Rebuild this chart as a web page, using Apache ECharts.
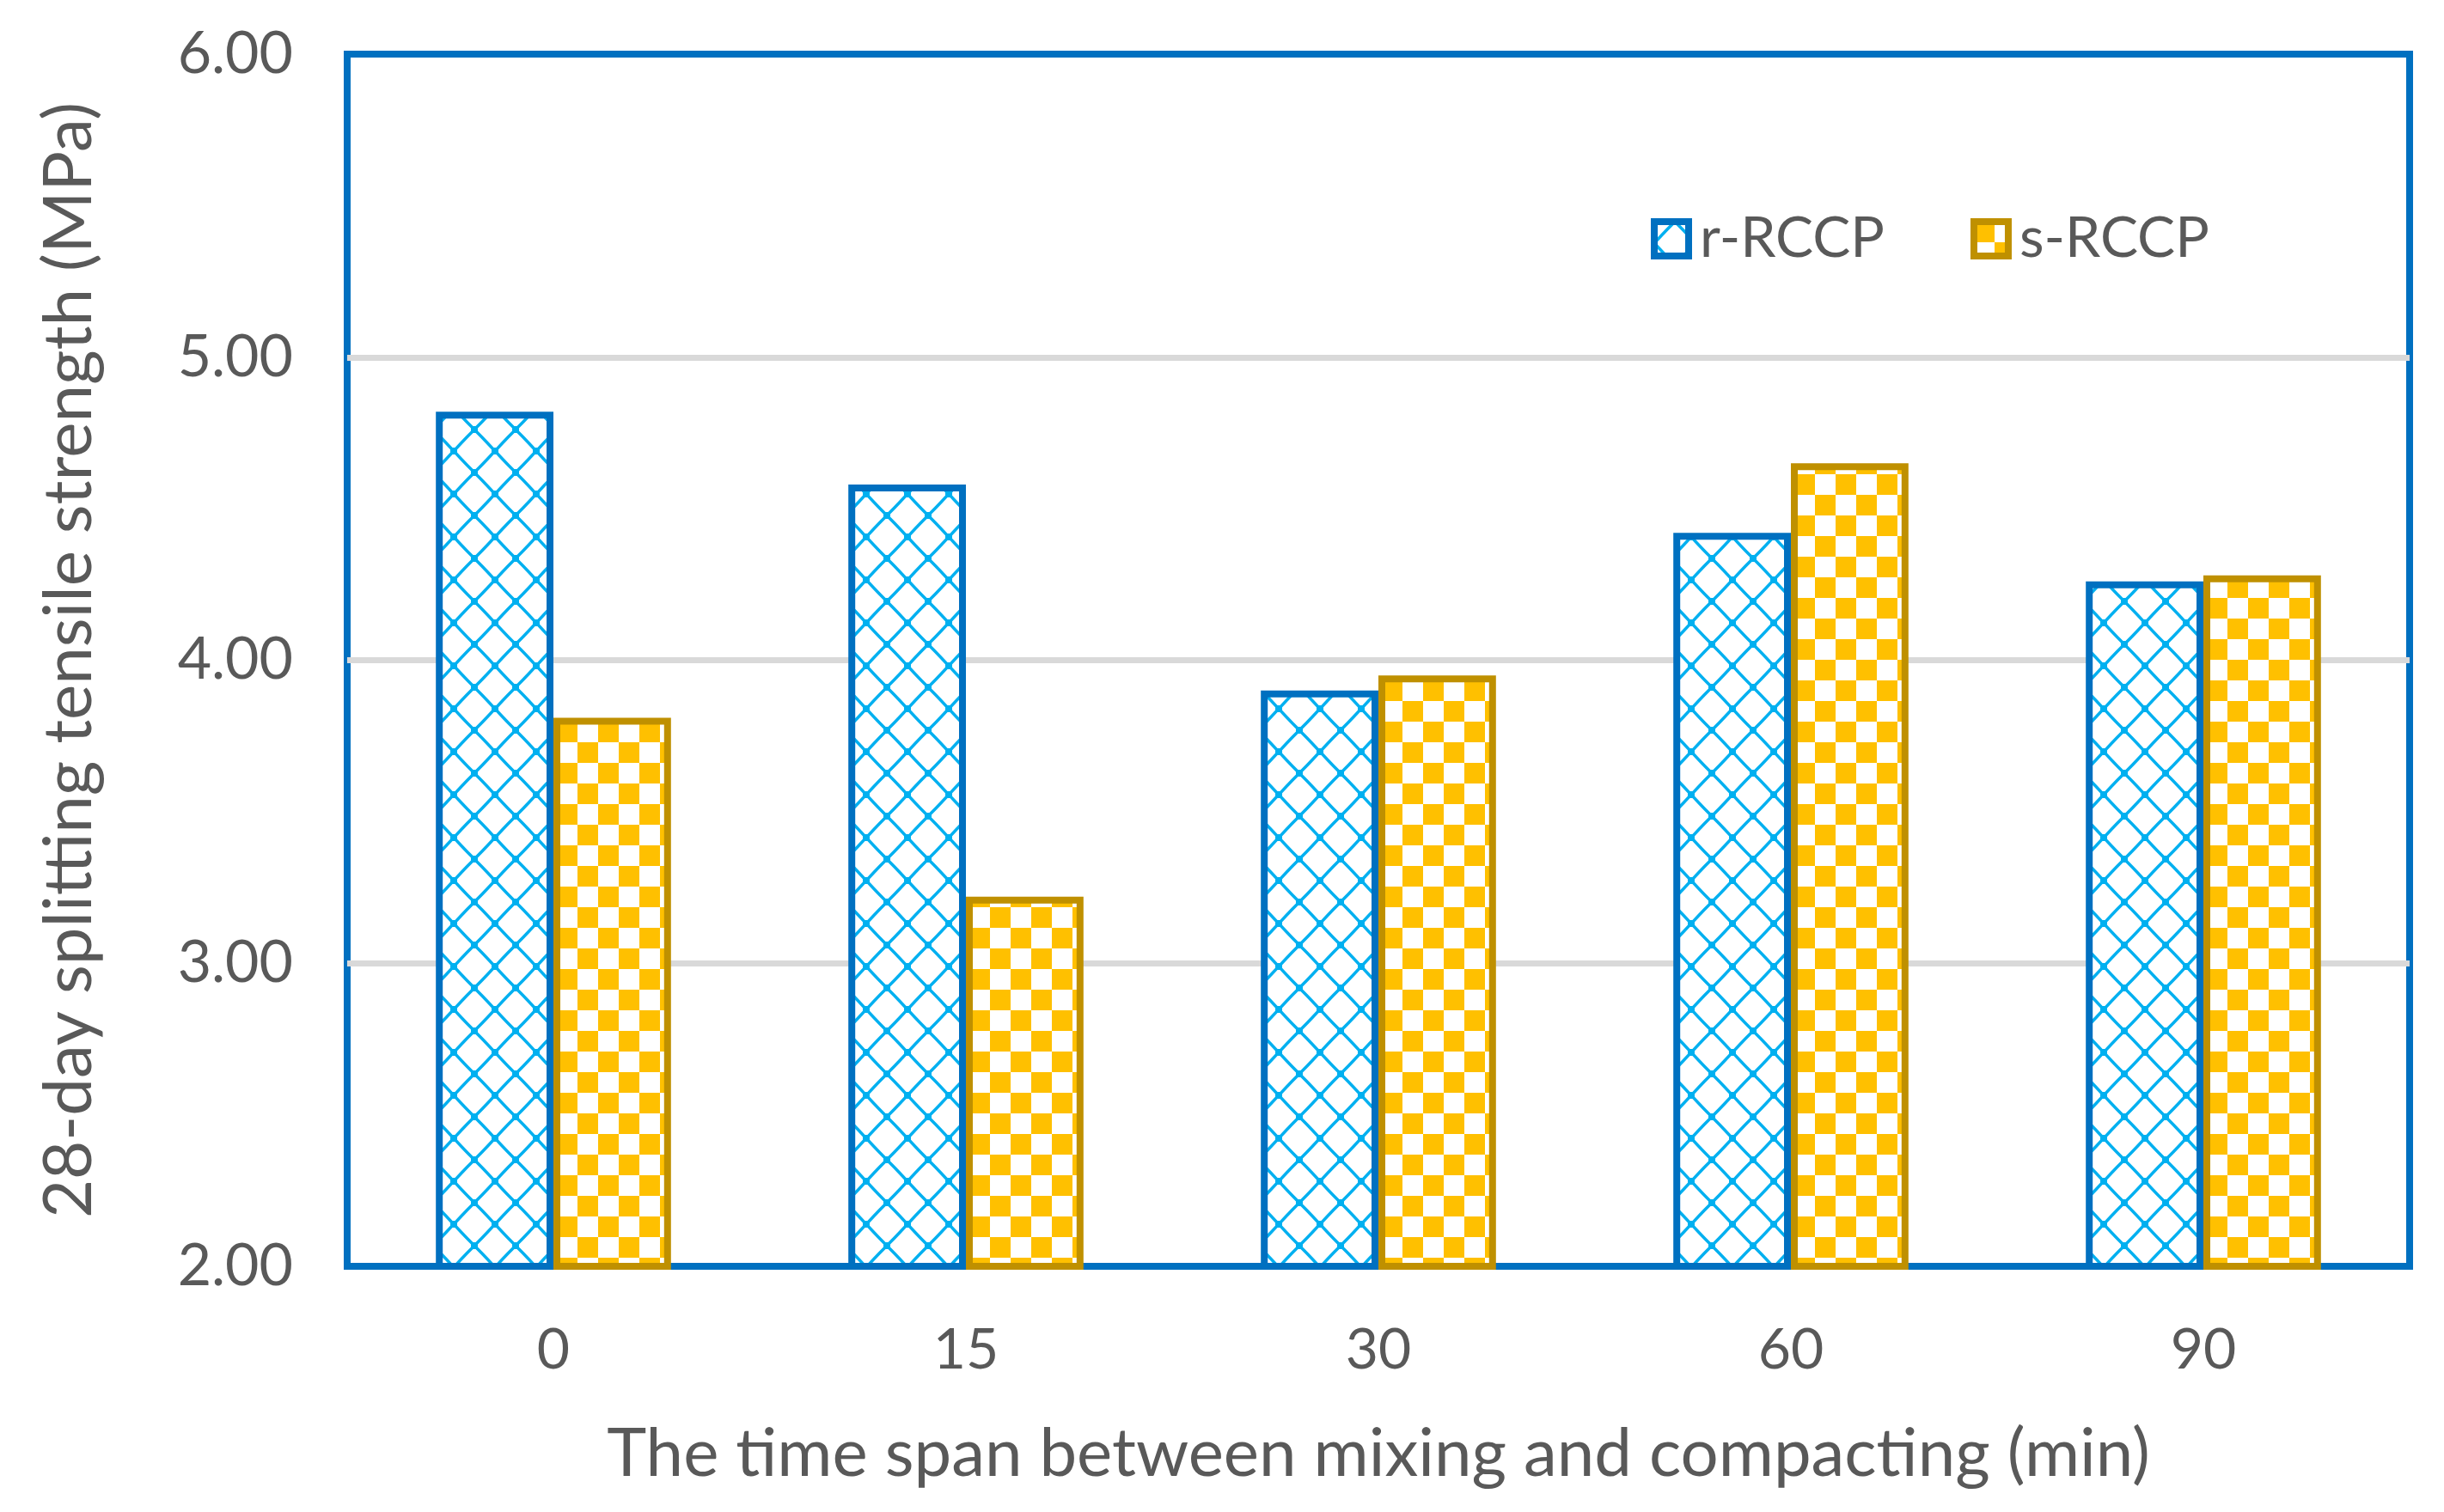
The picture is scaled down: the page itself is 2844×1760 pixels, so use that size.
<!DOCTYPE html>
<html>
<head>
<meta charset="utf-8">
<script src="https://cdn.jsdelivr.net/npm/echarts@6.0.0/dist/echarts.min.js"></script>
<style>
html,body{margin:0;padding:0;background:#fff;}
#chart{width:2844px;height:1760px;}
</style>
</head>
<body>
<div id="chart"></div>
<script>
var categories = ['0', '15', '30', '60', '90'];
var rRCCP = [4.82, 4.58, 3.90, 4.42, 4.26];
var sRCCP = [3.81, 3.22, 3.95, 4.65, 4.28];
var yTicks = [2, 3, 4, 5, 6];

function diamondPattern() {
  var W = 48, H = 50;
  var c = document.createElement('canvas');
  c.width = W; c.height = H;
  var g = c.getContext('2d');
  g.fillStyle = '#ffffff';
  g.fillRect(0, 0, W, H);
  g.strokeStyle = '#00B0F0';
  g.lineWidth = 3.5;
  var cx = W / 2, cy = H / 2, k = 0.18;
  g.beginPath();
  g.moveTo(cx, 0);
  g.lineTo(cx + W * k, H * (0.5 - k) * 0.55);
  g.lineTo(W - W * (0.5 - k) * 0.55, cy - H * k);
  g.lineTo(W, cy);
  g.lineTo(W - W * (0.5 - k) * 0.55, cy + H * k);
  g.lineTo(cx + W * k, H - H * (0.5 - k) * 0.55);
  g.lineTo(cx, H);
  g.lineTo(cx - W * k, H - H * (0.5 - k) * 0.55);
  g.lineTo(W * (0.5 - k) * 0.55, cy + H * k);
  g.lineTo(0, cy);
  g.lineTo(W * (0.5 - k) * 0.55, cy - H * k);
  g.lineTo(cx - W * k, H * (0.5 - k) * 0.55);
  g.closePath();
  g.stroke();
  g.fillStyle = '#00B0F0';
  g.fillRect(cx - 4, -4, 8, 8); g.fillRect(cx - 4, H - 4, 8, 8);
  g.fillRect(-4, cy - 4, 8, 8); g.fillRect(W - 4, cy - 4, 8, 8);
  return c;
}
function checkerPattern() {
  var c = document.createElement('canvas');
  c.width = 48; c.height = 48;
  var g = c.getContext('2d');
  g.fillStyle = '#ffffff';
  g.fillRect(0, 0, 48, 48);
  g.fillStyle = '#FFC000';
  g.fillRect(0, 0, 24, 24);
  g.fillRect(24, 24, 24, 24);
  return c;
}

var FONT = 'Lato';
var TXT = '#595959';
var chart = echarts.init(document.getElementById('chart'), null, {renderer: 'canvas'});
chart.setOption({
  backgroundColor: '#ffffff',
  animation: false,
  textStyle: {fontFamily: FONT, color: TXT},
  grid: {
    left: 404, right: 40, top: 63, bottom: 286,
    show: true, borderColor: '#0070C0', borderWidth: 8, backgroundColor: 'transparent'
  },
  legend: {
    left: 1916, top: 240,
    icon: 'rect',
    itemWidth: 40, itemHeight: 40, itemGap: 100,
    itemStyle: {borderWidth: 8},
    textStyle: {fontFamily: FONT, fontSize: 66, color: TXT, padding: [0, 0, 0, 8]},
    data: ['r-RCCP', 's-RCCP']
  },
  xAxis: {
    type: 'category',
    data: categories,
    name: 'The time span between mixing and compacting (min)',
    nameLocation: 'middle',
    nameGap: 180,
    nameTextStyle: {fontFamily: FONT, fontSize: 78, color: TXT, overflow: 'none', width: 2600},
    nameTruncate: {maxWidth: 2600},
    axisLine: {show: false},
    axisTick: {show: false},
    axisLabel: {fontFamily: FONT, fontSize: 66, color: TXT, margin: 65}
  },
  yAxis: {
    type: 'value',
    min: yTicks[0], max: yTicks[yTicks.length - 1], interval: 1,
    name: '28-day splitting tensile strength (MPa)',
    nameLocation: 'middle',
    nameGap: 284,
    nameRotate: 90,
    nameTextStyle: {fontFamily: FONT, fontSize: 78, color: TXT, overflow: 'none', width: 1700},
    nameTruncate: {maxWidth: 1700},
    axisLine: {show: false},
    axisTick: {show: false},
    axisLabel: {fontFamily: FONT, fontSize: 68, color: TXT, margin: 63,
      formatter: function (v) { return v.toFixed(2); }},
    splitLine: {show: true, showMinLine: false, showMaxLine: false,
      lineStyle: {color: '#D9D9D9', width: 7}}
  },
  series: [
    {
      name: 'r-RCCP', type: 'bar', data: rRCCP,
      barGap: '0%', barCategoryGap: '43%',
      itemStyle: {color: {image: diamondPattern(), repeat: 'repeat'},
        borderColor: '#0070C0', borderWidth: 8}
    },
    {
      name: 's-RCCP', type: 'bar', data: sRCCP,
      barGap: '0%', barCategoryGap: '43%',
      itemStyle: {color: {image: checkerPattern(), repeat: 'repeat'},
        borderColor: '#BF9000', borderWidth: 8}
    }
  ]
});
</script>
</body>
</html>
